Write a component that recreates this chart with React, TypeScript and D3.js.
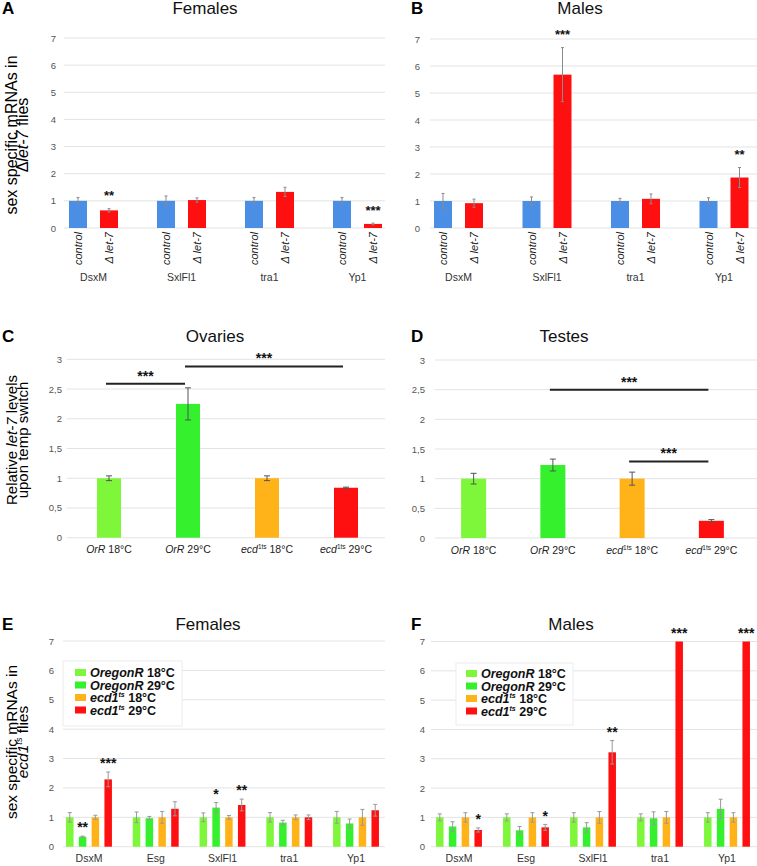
import React from "react";
import * as d3 from "d3";

// ---------- DATA ----------
const genesAB = ["DsxM", "SxlFl1", "tra1", "Yp1"];
const seriesAB = ["control", "Δ let-7"];

const femalesControl = [1, 1, 1, 1];
const femalesControlErr = [0.12, 0.18, 0.12, 0.12];
const femalesLet7 = [0.65, 1.03, 1.33, 0.15];
const femalesLet7Err = [0.06, 0.08, 0.17, 0.03];
const femalesLet7Stars = ["**", "", "", "***"];

const malesControl = [1, 1, 1, 1];
const malesControlErr = [0.28, 0.15, 0.1, 0.12];
const malesLet7 = [0.92, 5.68, 1.08, 1.87];
const malesLet7Err = [0.15, 1.0, 0.18, 0.37];
const malesLet7Stars = ["", "***", "", "**"];

const genotypes = ["OrR 18°C", "OrR 29°C", "ecd1ts 18°C", "ecd1ts 29°C"];
const ovariesLet7 = [1, 2.25, 1, 0.84];
const ovariesErr = [0.04, 0.27, 0.04, 0.01];
const ovariesSig = [
  { from: "OrR 18°C", to: "OrR 29°C", level: 2.59, label: "***" },
  { from: "OrR 29°C", to: "ecd1ts 29°C", level: 2.88, label: "***" },
];
const testesLet7 = [1, 1.23, 1, 0.29];
const testesErr = [0.09, 0.1, 0.11, 0.02];
const testesSig = [
  { from: "OrR 29°C", to: "ecd1ts 29°C", level: 2.5, label: "***" },
  { from: "ecd1ts 18°C", to: "ecd1ts 29°C", level: 1.29, label: "***" },
];

const genesEF = ["DsxM", "Esg", "SxlFl1", "tra1", "Yp1"];
const groupsEF = ["OregonR 18°C", "OregonR 29°C", "ecd1ts 18°C", "ecd1ts 29°C"];

const femOR18 = [1, 1, 1, 1, 1];
const femOR18Err = [0.16, 0.18, 0.15, 0.16, 0.2];
const femOR29 = [0.34, 0.97, 1.33, 0.82, 0.79];
const femOR29Err = [0.02, 0.06, 0.17, 0.08, 0.15];
const femOR29Stars = ["**", "", "*", "", ""];
const femEcd18 = [1, 1, 1, 1, 1];
const femEcd18Err = [0.07, 0.2, 0.06, 0.08, 0.27];
const femEcd29 = [2.29, 1.29, 1.42, 1.0, 1.24];
const femEcd29Err = [0.25, 0.24, 0.2, 0.08, 0.2];
const femEcd29Stars = ["***", "", "**", "", ""];

const malOR18 = [1, 1, 1, 1, 1];
const malOR18Err = [0.12, 0.12, 0.16, 0.12, 0.16];
const malOR29 = [0.69, 0.56, 0.66, 0.97, 1.29];
const malOR29Err = [0.16, 0.13, 0.16, 0.22, 0.33];
const malEcd18 = [1, 1, 1, 1, 1];
const malEcd18Err = [0.16, 0.16, 0.2, 0.2, 0.16];
const malEcd29 = [0.57, 0.66, 3.22, 7, 7];
const malEcd29Err = [0.07, 0.1, 0.4, 0, 0];
const malEcd29Stars = ["*", "*", "**", "***", "***"];

const noStars = ["", "", "", "", ""];

// ---------- STYLE ----------
const FONT = "'Liberation Sans', Arial, Helvetica, sans-serif";
const BLUE = "#4a8ee6";
const RED = "#ff1010";
const LGREEN = "#7ef63a";
const GREEN = "#35f02c";
const ORANGE = "#ffb319";
const GRID = "#e3e3e3";
const TICK = "#555";

type GroupLayout = {
  band: [number, number];
  yPx: [number, number];
  grid: [number, number];
  tickRight: number;
  subStep: number;
  barW: number;
  capW: number;
  errColor: string;
  starGap: number;
  starSize: number;
  catY: number;
  clip?: number;
};

function GroupPanel(props: {
  id: string;
  cats: string[];
  series: string[];
  values: number[][];
  errs: number[][];
  stars: string[][];
  colors: string[];
  yMax: number;
  layout: GroupLayout;
  rotatedLabels?: boolean;
}) {
  const { id, cats, series, values, errs, stars, colors, yMax, layout: L, rotatedLabels } = props;
  const x0 = d3.scaleBand<string>().domain(cats).range(L.band);
  const n = series.length;
  const p = 1 - L.barW / L.subStep;
  const x1 = d3
    .scaleBand<string>()
    .domain(series)
    .range([-(n * L.subStep) / 2, (n * L.subStep) / 2])
    .paddingInner(p)
    .paddingOuter(p / 2);
  const y = d3.scaleLinear().domain([0, yMax]).range(L.yPx);
  const ticks = d3.range(0, yMax + 0.001, 1);
  const clipId = `clip-${id}`;
  return (
    <g>
      {L.clip !== undefined && (
        <defs>
          <clipPath id={clipId}>
            <rect x={0} y={0} width={L.clip} height={866} />
          </clipPath>
        </defs>
      )}
      <g clipPath={L.clip !== undefined ? `url(#${clipId})` : undefined}>
        {ticks.map((t) => (
          <line key={t} x1={L.grid[0]} x2={L.grid[1]} y1={y(t)} y2={y(t)} stroke={GRID} strokeWidth={1} />
        ))}
        {series.map((s, si) =>
          cats.map((c, ci) => {
            const v = values[si][ci];
            const e = errs[si][ci];
            const cx = (x0(c) as number) + x0.bandwidth() / 2 + (x1(s) as number) + x1.bandwidth() / 2;
            const bx = cx - x1.bandwidth() / 2;
            const st = stars[si][ci];
            return (
              <g key={`${s}-${c}`}>
                <rect x={bx} y={y(v)} width={x1.bandwidth()} height={y(0) - y(v)} fill={colors[si]} />
                {e > 0 && (
                  <g stroke={L.errColor} strokeWidth={1}>
                    <line x1={cx} x2={cx} y1={y(v + e)} y2={y(v - e)} />
                    <line x1={cx - L.capW / 2} x2={cx + L.capW / 2} y1={y(v + e)} y2={y(v + e)} />
                    <line x1={cx - L.capW / 2} x2={cx + L.capW / 2} y1={y(v - e)} y2={y(v - e)} />
                  </g>
                )}
                {st && (
                  <text
                    x={cx}
                    y={y(v + e) - L.starGap + L.starSize * 0.58}
                    textAnchor="middle"
                    fontSize={L.starSize}
                    fontWeight="bold"
                    fill="#111"
                  >
                    {st}
                  </text>
                )}
                {rotatedLabels && (
                  <text
                    transform={`translate(${cx + 4},${L.yPx[0] + 4}) rotate(-90)`}
                    textAnchor="end"
                    fontSize={11}
                    fontStyle="italic"
                    fill="#222"
                  >
                    {s}
                  </text>
                )}
              </g>
            );
          })
        )}
      </g>
      {ticks.map((t) => (
        <text key={t} x={L.tickRight} y={y(t) + 3.5} textAnchor="end" fontSize={9.5} fill={TICK}>
          {t}
        </text>
      ))}
      {cats.map((c) => (
        <text
          key={c}
          x={(x0(c) as number) + x0.bandwidth() / 2}
          y={L.catY}
          textAnchor="middle"
          fontSize={10.5}
          fill="#333"
        >
          {c}
        </text>
      ))}
    </g>
  );
}

function GenotypeLabel({ label, x, y }: { label: string; x: number; y: number }) {
  if (label.startsWith("ecd1ts")) {
    return (
      <text x={x} y={y} textAnchor="middle" fontSize={10.5} fill="#222">
        <tspan fontStyle="italic">ecd</tspan>
        <tspan fontSize={6.5} dy={-4}>1ts</tspan>
        <tspan dy={4}>{label.slice(6)}</tspan>
      </text>
    );
  }
  return (
    <text x={x} y={y} textAnchor="middle" fontSize={10.5} fill="#222">
      <tspan fontStyle="italic">OrR</tspan>
      <tspan>{label.slice(3)}</tspan>
    </text>
  );
}

type SingleLayout = {
  band: [number, number];
  yPx: [number, number];
  grid: [number, number];
  tickRight: number;
  barW: number;
  clip?: number;
};

function SinglePanel(props: {
  id: string;
  cats: string[];
  values: number[];
  errs: number[];
  colors: string[];
  sig: { from: string; to: string; level: number; label: string }[];
  layout: SingleLayout;
}) {
  const { id, cats, values, errs, colors, sig, layout: L } = props;
  const x = d3.scaleBand<string>().domain(cats).range(L.band);
  const step = x.step();
  const pad = 1 - L.barW / step;
  x.paddingInner(pad).paddingOuter(pad / 2);
  const y = d3.scaleLinear().domain([0, 3]).range(L.yPx);
  const ticks = d3.range(0, 3.001, 0.5);
  const fmt = (t: number) => String(t).replace(".", ",");
  const center = (c: string) => (x(c) as number) + x.bandwidth() / 2;
  const clipId = `clip-${id}`;
  return (
    <g>
      {L.clip !== undefined && (
        <defs>
          <clipPath id={clipId}>
            <rect x={0} y={0} width={L.clip} height={866} />
          </clipPath>
        </defs>
      )}
      <g clipPath={L.clip !== undefined ? `url(#${clipId})` : undefined}>
        {ticks.map((t) => (
          <line key={t} x1={L.grid[0]} x2={L.grid[1]} y1={y(t)} y2={y(t)} stroke={GRID} strokeWidth={1} />
        ))}
      </g>
      {cats.map((c, i) => {
        const v = values[i];
        const e = errs[i];
        const cx = center(c);
        return (
          <g key={c}>
            <rect x={x(c)} y={y(v)} width={x.bandwidth()} height={y(0) - y(v)} fill={colors[i]} />
            <g stroke="#555" strokeWidth={1}>
              <line x1={cx} x2={cx} y1={y(v + e)} y2={y(v - e)} />
              <line x1={cx - 3} x2={cx + 3} y1={y(v + e)} y2={y(v + e)} />
              <line x1={cx - 3} x2={cx + 3} y1={y(v - e)} y2={y(v - e)} />
            </g>
            <GenotypeLabel label={c} x={cx} y={L.yPx[0] + 15.5} />
          </g>
        );
      })}
      {sig.map((s, i) => {
        const xa = center(s.from) - 3;
        const xb = center(s.to) - 3;
        return (
          <g key={i}>
            <line x1={xa} x2={xb} y1={y(s.level)} y2={y(s.level)} stroke="#222" strokeWidth={2} />
            <text x={(xa + xb) / 2} y={y(s.level) - 3} textAnchor="middle" fontSize={14} fontWeight="bold" fill="#111">
              {s.label}
            </text>
          </g>
        );
      })}
      {ticks.map((t) => (
        <text key={t} x={L.tickRight} y={y(t) + 3.5} textAnchor="end" fontSize={9.5} fill={TICK}>
          {fmt(t)}
        </text>
      ))}
    </g>
  );
}

function Legend({ x, y, w, h, sqX, textX, row0, rowStep }: any) {
  return (
    <g>
      <rect x={x} y={y} width={w} height={h} fill="#fff" stroke="#ececec" strokeWidth={1} />
      {groupsEF.map((g, i) => {
        const cy = row0 + i * rowStep;
        const ecd = g.startsWith("ecd1ts");
        return (
          <g key={g}>
            <rect x={sqX} y={cy - 3.5} width={11} height={7} fill={[LGREEN, GREEN, ORANGE, RED][i]} />
            <text x={textX} y={cy + 4.5} fontSize={12.5} fontWeight="bold" fill="#111">
              {ecd ? (
                <>
                  <tspan fontStyle="italic">ecd1</tspan>
                  <tspan fontSize={7} dy={-5} fontStyle="italic">ts</tspan>
                  <tspan dy={5}>{g.slice(6)}</tspan>
                </>
              ) : (
                <>
                  <tspan fontStyle="italic">OregonR</tspan>
                  <tspan>{g.slice(7)}</tspan>
                </>
              )}
            </text>
          </g>
        );
      })}
    </g>
  );
}

function Titles({ letter, lx, title, tx, by }: { letter: string; lx: number; title: string; tx: number; by: number }) {
  return (
    <g>
      <text x={lx} y={by} fontSize={17} fontWeight="bold" fill="#000">
        {letter}
      </text>
      <text x={tx} y={by} fontSize={17} textAnchor="middle" fill="#111">
        {title}
      </text>
    </g>
  );
}

function YLabel({ cy, lines, size }: { cy: number; lines: React.ReactNode[]; size: number }) {
  const xs = [17, 28];
  return (
    <g>
      {lines.map((l, i) => (
        <text key={i} transform={`translate(${xs[i]},${cy}) rotate(-90)`} textAnchor="middle" fontSize={size} fill="#000">
          {l}
        </text>
      ))}
    </g>
  );
}

export default function App() {
  const abCommon = { subStep: 31, barW: 18, capW: 3, errColor: "#8a8a8a", starGap: 16, starSize: 13, catY: 281 };
  const efCommon = { subStep: 12.8, barW: 7.5, capW: 4, errColor: "#999", starGap: 12, starSize: 14, catY: 862 };
  return (
    <svg
      width={757}
      height={866}
      viewBox="0 0 757 866"
      style={{ position: "absolute", left: 0, top: 0, background: "#fff" }}
      fontFamily={FONT}
    >
      <rect width={757} height={866} fill="#fff" />
      {/* A */}
      <GroupPanel
        id="A"
        cats={genesAB}
        series={seriesAB}
        values={[femalesControl, femalesLet7]}
        errs={[femalesControlErr, femalesLet7Err]}
        stars={[["", "", "", ""], femalesLet7Stars]}
        colors={[BLUE, RED]}
        yMax={7}
        rotatedLabels
        layout={{ ...abCommon, band: [49.5, 401.5], yPx: [228, 38], grid: [64, 385], tickRight: 56, clip: 385 }}
      />
      {/* B */}
      <GroupPanel
        id="B"
        cats={genesAB}
        series={seriesAB}
        values={[malesControl, malesLet7]}
        errs={[malesControlErr, malesLet7Err]}
        stars={[["", "", "", ""], malesLet7Stars]}
        colors={[BLUE, RED]}
        yMax={7}
        rotatedLabels
        layout={{ ...abCommon, band: [414.25, 768.25], yPx: [228, 39], grid: [430, 757], tickRight: 420 }}
      />
      <Titles letter="A" lx={2} title="Females" tx={205} by={14} />
      <Titles letter="B" lx={411} title="Males" tx={580} by={14} />
      <YLabel
        cy={135}
        size={16}
        lines={[
          "sex specific mRNAs in",
          <>
            <tspan>Δ</tspan>
            <tspan fontStyle="italic">let-7</tspan>
            <tspan> flies</tspan>
          </>,
        ]}
      />

      {/* C */}
      <SinglePanel
        id="C"
        cats={genotypes}
        values={ovariesLet7}
        errs={ovariesErr}
        colors={[LGREEN, GREEN, ORANGE, RED]}
        sig={ovariesSig}
        layout={{ band: [69.5, 385.5], yPx: [537.7, 359.3], grid: [67, 385], tickRight: 62, barW: 24, clip: 385 }}
      />
      <SinglePanel
        id="D"
        cats={genotypes}
        values={testesLet7}
        errs={testesErr}
        colors={[LGREEN, GREEN, ORANGE, RED]}
        sig={testesSig}
        layout={{ band: [434, 751], yPx: [538, 360], grid: [435, 757], tickRight: 425, barW: 25 }}
      />
      <Titles letter="C" lx={2} title="Ovaries" tx={215} by={342} />
      <Titles letter="D" lx={411} title="Testes" tx={564} by={342} />
      <YLabel
        cy={440}
        size={15}
        lines={[
          <>
            <tspan>Relative </tspan>
            <tspan fontStyle="italic">let-7</tspan>
            <tspan> levels</tspan>
          </>,
          "upon temp switch",
        ]}
      />

      {/* E */}
      <GroupPanel
        id="E"
        cats={genesEF}
        series={groupsEF}
        values={[femOR18, femOR29, femEcd18, femEcd29]}
        errs={[femOR18Err, femOR29Err, femEcd18Err, femEcd29Err]}
        stars={[noStars, femOR29Stars, noStars, femEcd29Stars]}
        colors={[LGREEN, GREEN, ORANGE, RED]}
        yMax={7}
        layout={{ ...efCommon, band: [55.6, 389.4], yPx: [846.7, 641], grid: [63, 385], tickRight: 54, clip: 385 }}
      />
      <GroupPanel
        id="F"
        cats={genesEF}
        series={groupsEF}
        values={[malOR18, malOR29, malEcd18, malEcd29]}
        errs={[malOR18Err, malOR29Err, malEcd18Err, malEcd29Err]}
        stars={[noStars, noStars, noStars, malEcd29Stars]}
        colors={[LGREEN, GREEN, ORANGE, RED]}
        yMax={7}
        layout={{ ...efCommon, band: [425.5, 760.5], yPx: [846.7, 641.5], grid: [431, 757], tickRight: 425 }}
      />
      <Legend x={63} y={661} w={119} h={65} sqX={75} textX={90} row0={672.5} rowStep={12.5} />
      <Legend x={456} y={663} w={117} h={62} sqX={466} textX={481} row0={673.5} rowStep={12.5} />
      <Titles letter="E" lx={2} title="Females" tx={208} by={630} />
      <Titles letter="F" lx={411} title="Males" tx={571} by={630} />
      <YLabel
        cy={742}
        size={15.5}
        lines={[
          "sex specific mRNAs in",
          <>
            <tspan fontStyle="italic">ecd1</tspan>
            <tspan fontStyle="italic" fontSize={9} dy={-6}>ts</tspan>
            <tspan dy={6}> flies</tspan>
          </>,
        ]}
      />
    </svg>
  );
}
